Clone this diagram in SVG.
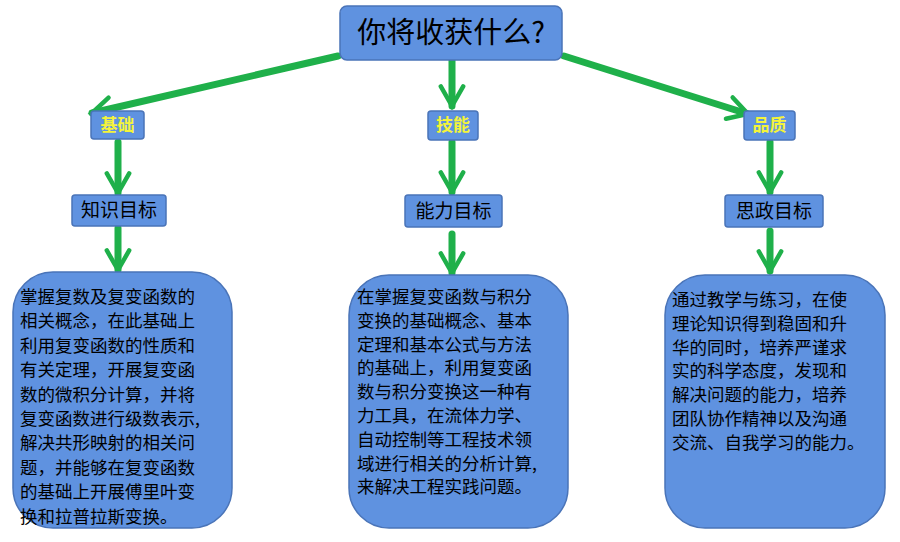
<svg xmlns="http://www.w3.org/2000/svg" width="900" height="542" viewBox="0 0 900 542">
<style>
.box{fill:#5f92e0;stroke:#4a74b8;stroke-width:1.5}
.t{font-family:"Noto Sans CJK SC",sans-serif;fill:#000}
.y{font-family:"Noto Sans CJK SC",sans-serif;fill:#f4f43a;font-weight:bold;font-size:17px}
.b{font-size:17.5px}
.c{stroke:#1fb04a;stroke-width:7;fill:none;stroke-linecap:round}
</style>
<defs>
<marker id="a" viewBox="0 0 10 10" refX="8" refY="5" markerWidth="4" markerHeight="4" orient="auto" markerUnits="strokeWidth">
<path d="M1,1 L8,5 L1,9" fill="none" stroke="#1fb04a" stroke-width="1.6" stroke-linecap="round"/>
</marker>
</defs>
<rect width="900" height="542" fill="#fff"/>
<g id="connectors" class="c">
<line x1="338" y1="56" x2="92" y2="113" marker-end="url(#a)"/>
<line x1="452" y1="58" x2="452" y2="106" marker-end="url(#a)"/>
<line x1="564" y1="56" x2="748" y2="114" marker-end="url(#a)"/>
<line x1="118" y1="142" x2="118" y2="193" marker-end="url(#a)"/>
<line x1="452" y1="142" x2="452" y2="192" marker-end="url(#a)"/>
<line x1="770" y1="142" x2="770" y2="192" marker-end="url(#a)"/>
<line x1="118" y1="228" x2="118" y2="270" marker-end="url(#a)"/>
<line x1="452" y1="234" x2="452" y2="273" marker-end="url(#a)"/>
<line x1="770" y1="231" x2="770" y2="271" marker-end="url(#a)"/>
</g>
<g id="root"><rect class="box" x="340" y="6" width="222" height="54" rx="7"/><text class="t" x="451" y="43" font-size="29" text-anchor="middle">你将收获什么?</text></g>
<g id="jichu"><rect class="box" x="91" y="111" width="53" height="28" rx="3"/><text class="y" x="117.5" y="131" text-anchor="middle">基础</text></g>
<g id="jineng"><rect class="box" x="428" y="111" width="50" height="29" rx="3"/><text class="y" x="453" y="131" text-anchor="middle">技能</text></g>
<g id="pinzhi"><rect class="box" x="744" y="111" width="51" height="29" rx="3"/><text class="y" x="769.5" y="131" text-anchor="middle">品质</text></g>
<g id="zhishi"><rect class="box" x="72" y="195" width="94" height="31" rx="3"/><text class="t" x="119" y="217" font-size="19" text-anchor="middle">知识目标</text></g>
<g id="nengli"><rect class="box" x="405" y="195" width="97" height="32" rx="3"/><text class="t" x="453.5" y="218" font-size="19" text-anchor="middle">能力目标</text></g>
<g id="sizheng"><rect class="box" x="725" y="195" width="98" height="32" rx="3"/><text class="t" x="774" y="218" font-size="19" text-anchor="middle">思政目标</text></g>
<g id="left"><rect class="box" x="13" y="272" width="219" height="256" rx="40"/>
<text class="t b" x="20">
<tspan x="20" y="303">掌握复数及复变函数的</tspan>
<tspan x="20" y="327.4">相关概念，在此基础上</tspan>
<tspan x="20" y="351.8">利用复变函数的性质和</tspan>
<tspan x="20" y="376.2">有关定理，开展复变函</tspan>
<tspan x="20" y="400.6">数的微积分计算，并将</tspan>
<tspan x="20" y="425">复变函数进行级数表示,</tspan>
<tspan x="20" y="449.4">解决共形映射的相关问</tspan>
<tspan x="20" y="473.8">题，并能够在复变函数</tspan>
<tspan x="20" y="498.2">的基础上开展傅里叶变</tspan>
<tspan x="20" y="522.6">换和拉普拉斯变换。</tspan>
</text></g>
<g id="mid"><rect class="box" x="349" y="275" width="219" height="253" rx="40"/>
<text class="t b">
<tspan x="357" y="303">在掌握复变函数与积分</tspan>
<tspan x="357" y="326.8">变换的基础概念、基本</tspan>
<tspan x="357" y="350.6">定理和基本公式与方法</tspan>
<tspan x="357" y="374.4">的基础上，利用复变函</tspan>
<tspan x="357" y="398.2">数与积分变换这一种有</tspan>
<tspan x="357" y="422">力工具，在流体力学、</tspan>
<tspan x="357" y="445.8">自动控制等工程技术领</tspan>
<tspan x="357" y="469.6">域进行相关的分析计算,</tspan>
<tspan x="357" y="493.4">来解决工程实践问题。</tspan>
</text></g>
<g id="right"><rect class="box" x="665" y="275" width="220" height="253" rx="40"/>
<text class="t b">
<tspan x="672" y="306">通过教学与练习，在使</tspan>
<tspan x="672" y="329.8">理论知识得到稳固和升</tspan>
<tspan x="672" y="353.6">华的同时，培养严谨求</tspan>
<tspan x="672" y="377.4">实的科学态度，发现和</tspan>
<tspan x="672" y="401.2">解决问题的能力，培养</tspan>
<tspan x="672" y="425">团队协作精神以及沟通</tspan>
<tspan x="672" y="448.8">交流、自我学习的能力。</tspan>
</text></g>
</svg>
